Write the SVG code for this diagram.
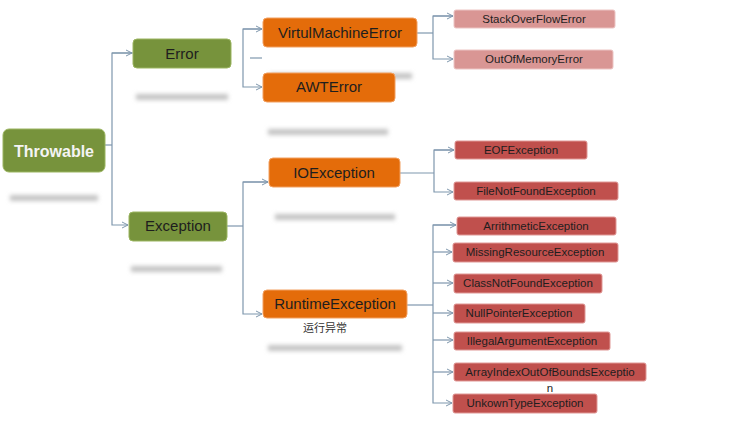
<svg xmlns="http://www.w3.org/2000/svg" width="754" height="447" viewBox="0 0 754 447">
<defs>
<style>
.g{fill:#77933c;stroke:#9bb560;stroke-width:1}
.o{fill:#e46c0a;stroke:#f2a060;stroke-width:1}
.p{fill:#d99694;stroke:#ecc4c3;stroke-width:1}
.r{fill:#c0504d;stroke:#e09896;stroke-width:1}
.t{font-family:"Liberation Sans",Arial,sans-serif;text-anchor:middle;fill:#1e1e1e}
.big{font-size:15px}
.sm{font-size:11.5px}
.c{fill:none;stroke:#7f97ad;stroke-width:1.2}
.sh{fill:#c4c4c4;filter:url(#blur)}
</style>
<filter id="blur" x="-20%" y="-200%" width="140%" height="500%"><feGaussianBlur stdDeviation="2.2"/></filter>
<marker id="ar" markerWidth="8" markerHeight="8" refX="7" refY="4" orient="auto" markerUnits="userSpaceOnUse">
<polyline points="1,1 7,4 1,7" fill="none" stroke="#7f97ad" stroke-width="1"/>
</marker>
</defs>
<rect width="754" height="447" fill="#ffffff"/>
<g id="shadows">
<rect class="sh" x="10" y="195" width="88" height="6"/>
<rect class="sh" x="136" y="94" width="92" height="6"/>
<rect class="sh" x="131" y="266" width="91" height="6"/>
<rect class="sh" x="270" y="73" width="142" height="6"/>
<rect class="sh" x="268" y="129" width="120" height="6"/>
<rect class="sh" x="275" y="214" width="120" height="6"/>
<rect class="sh" x="268" y="345" width="134" height="6"/>
</g>
<g id="connectors">
<polyline class="c" points="105,145 112,145"/>
<polyline class="c" points="133,53 112,53 112,225 128,225" marker-end="url(#ar)"/>
<line class="c" x1="112" y1="53" x2="132" y2="53" marker-end="url(#ar)"/>
<line class="c" x1="250" y1="58" x2="262" y2="58"/>
<polyline class="c" points="262,29 243,29 243,87 262,87" marker-end="url(#ar)"/>
<line class="c" x1="243" y1="29" x2="262" y2="29" marker-end="url(#ar)"/>
<polyline class="c" points="227,226 243,226"/>
<polyline class="c" points="268,182 243,182 243,314 262,314" marker-end="url(#ar)"/>
<line class="c" x1="243" y1="182" x2="268" y2="182" marker-end="url(#ar)"/>
<polyline class="c" points="417,33 433,33"/>
<polyline class="c" points="453,16 433,16 433,59 453,59" marker-end="url(#ar)"/>
<line class="c" x1="433" y1="16" x2="453" y2="16" marker-end="url(#ar)"/>
<polyline class="c" points="400,173 434,173"/>
<polyline class="c" points="454,150 434,150 434,192 453,192" marker-end="url(#ar)"/>
<line class="c" x1="434" y1="150" x2="454" y2="150" marker-end="url(#ar)"/>
<polyline class="c" points="407,305 433,305"/>
<polyline class="c" points="456,225 433,225 433,403 452,403" marker-end="url(#ar)"/>
<line class="c" x1="433" y1="225" x2="456" y2="225" marker-end="url(#ar)"/>
<line class="c" x1="433" y1="252" x2="452" y2="252" marker-end="url(#ar)"/>
<line class="c" x1="433" y1="283" x2="453" y2="283" marker-end="url(#ar)"/>
<line class="c" x1="433" y1="313" x2="453" y2="313" marker-end="url(#ar)"/>
<line class="c" x1="433" y1="340" x2="453" y2="340" marker-end="url(#ar)"/>
<line class="c" x1="433" y1="372" x2="453" y2="372" marker-end="url(#ar)"/>
</g>
<g id="throwable"><rect class="g" x="3" y="129" width="102" height="43" rx="6"/><text class="t" x="54" y="157" font-size="16" font-weight="bold" style="fill:#f4f4f4">Throwable</text></g>
<g id="error"><rect class="g" x="133" y="39" width="98" height="29" rx="4"/><text class="t big" x="182" y="59">Error</text></g>
<g id="exception"><rect class="g" x="129" y="212" width="98" height="29" rx="4"/><text class="t big" x="178" y="231">Exception</text></g>
<g id="vme"><rect class="o" x="263" y="18" width="154" height="29" rx="4"/><text class="t big" x="340" y="38">VirtulMachineError</text></g>
<g id="awterror"><rect class="o" x="263" y="73" width="132" height="29" rx="4"/><text class="t big" x="329" y="92">AWTError</text></g>
<g id="ioexception"><rect class="o" x="269" y="158" width="131" height="29" rx="4"/><text class="t big" x="334" y="178">IOException</text></g>
<g id="runtimeexception"><rect class="o" x="263" y="290" width="144" height="28" rx="4"/><text class="t big" x="335" y="309">RuntimeException</text><text x="325" y="332" font-family="'Noto Sans CJK SC',sans-serif" font-size="11" text-anchor="middle" fill="#333">运行异常</text></g>
<g id="stackoverflow"><rect class="p" x="454" y="10" width="161" height="18" rx="2"/><text class="t sm" x="534" y="23">StackOverFlowError</text></g>
<g id="outofmemory"><rect class="p" x="454" y="50" width="159" height="19" rx="2"/><text class="t sm" x="534" y="63">OutOfMemoryError</text></g>
<g id="eof"><rect class="r" x="455" y="141" width="132" height="18" rx="2"/><text class="t sm" x="521" y="154">EOFException</text></g>
<g id="filenotfound"><rect class="r" x="454" y="182" width="164" height="18" rx="2"/><text class="t sm" x="536" y="195">FileNotFoundException</text></g>
<g id="arithmetic"><rect class="r" x="457" y="217" width="159" height="18" rx="2"/><text class="t sm" x="536" y="230">ArrithmeticException</text></g>
<g id="missingresource"><rect class="r" x="453" y="243" width="165" height="19" rx="2"/><text class="t sm" x="535" y="256">MissingResourceException</text></g>
<g id="classnotfound"><rect class="r" x="454" y="274" width="148" height="19" rx="2"/><text class="t sm" x="528" y="287">ClassNotFoundException</text></g>
<g id="nullpointer"><rect class="r" x="454" y="304" width="131" height="19" rx="2"/><text class="t sm" x="519" y="317">NullPointerException</text></g>
<g id="illegalargument"><rect class="r" x="454" y="332" width="156" height="18" rx="2"/><text class="t sm" x="532" y="345">IllegalArgumentException</text></g>
<g id="arrayindex"><rect class="r" x="454" y="363" width="192" height="18" rx="2"/><text class="t sm" x="550" y="376">ArrayIndexOutOfBoundsExceptio</text><text class="t sm" x="550" y="392">n</text></g>
<g id="unknowntype"><rect class="r" x="453" y="394" width="144" height="19" rx="2"/><text class="t sm" x="525" y="407">UnkownTypeException</text></g>
</svg>
